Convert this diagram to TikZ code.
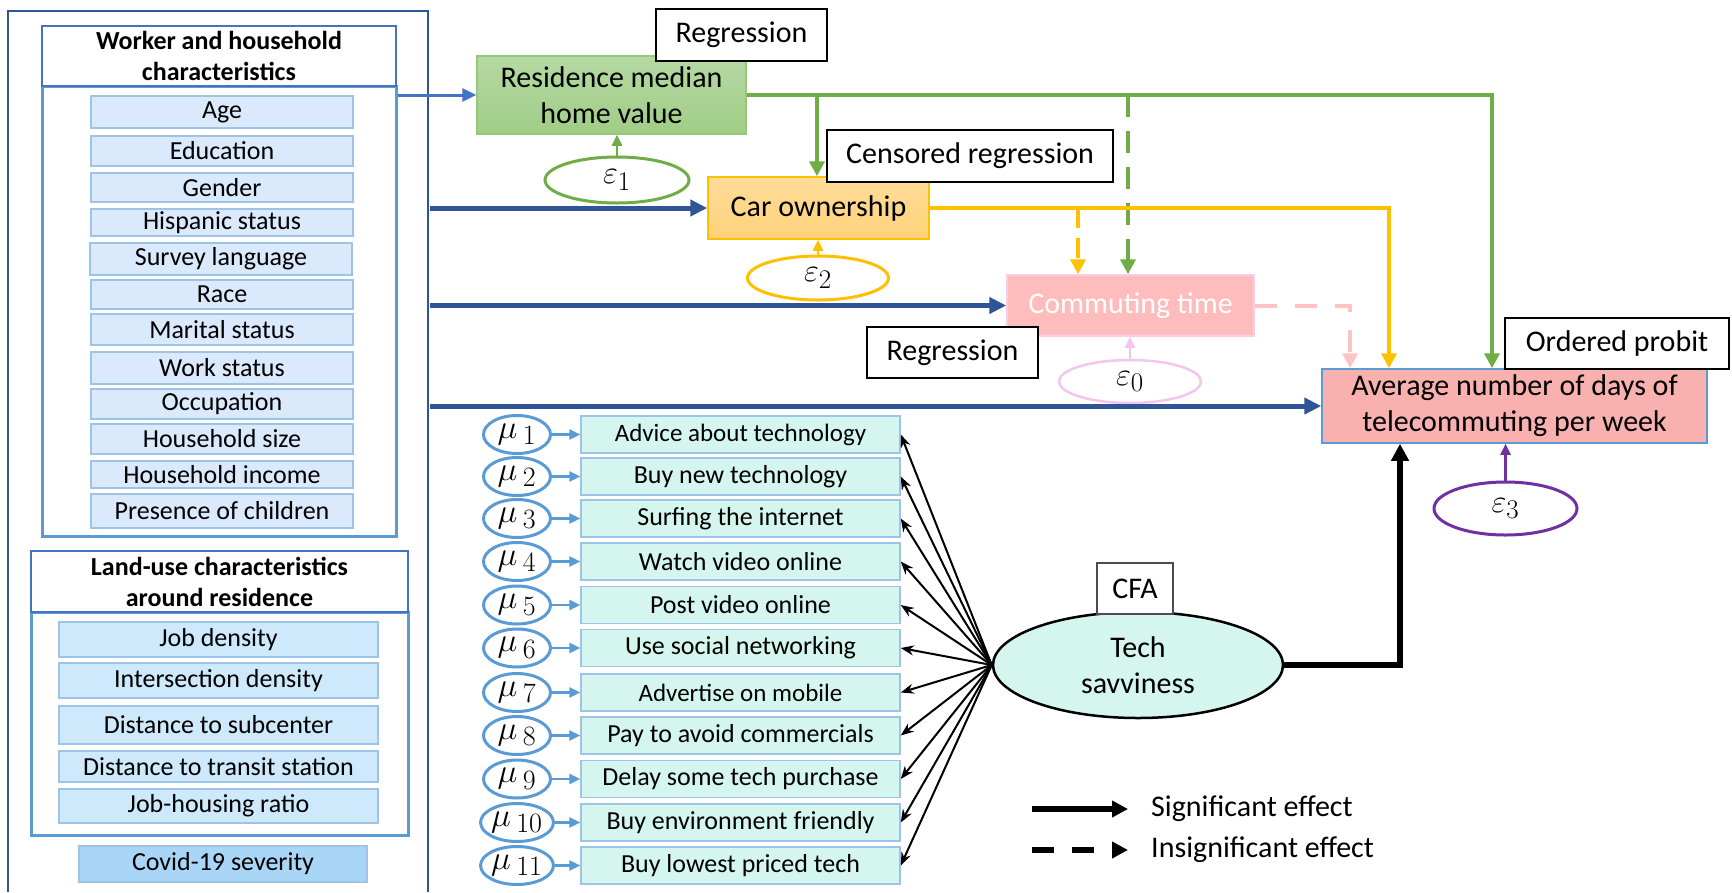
\documentclass[tikz,border=0pt]{standalone}
\usepackage{graphicx}
\usepackage{fontspec}
\setmainfont{Carlito}
\usetikzlibrary{arrows.meta,shapes.geometric}
\definecolor{dkblue}{HTML}{2F5597}
\definecolor{ltblue}{HTML}{4472C4}
\definecolor{midblue}{HTML}{5B9BD5}
\definecolor{itemfill}{HTML}{DAEAFC}
\definecolor{itemdraw}{HTML}{9DC3E6}
\definecolor{landfill}{HTML}{CDE9FB}
\definecolor{covfill}{HTML}{A9D6F7}
\definecolor{grn}{HTML}{70AD47}
\definecolor{org}{HTML}{FFC000}
\definecolor{pinkline}{HTML}{FFC3C3}
\definecolor{comfill}{HTML}{FFBCBD}
\definecolor{comdraw}{HTML}{F8CDE8}
\definecolor{avgfill}{HTML}{F9B1AF}
\definecolor{mint}{HTML}{D4F6EE}
\definecolor{purp}{HTML}{7030A0}
\definecolor{epink}{HTML}{F2C6EE}
\definecolor{resTop}{HTML}{B5D9A3}
\definecolor{resBot}{HTML}{A0CD86}
\definecolor{resdraw}{HTML}{96C87A}
\definecolor{carTop}{HTML}{FFDC98}
\definecolor{carBot}{HTML}{FFD27A}
\newcommand{\mymu}[1]{\scalebox{1.35}{$\mu_{\hspace{4pt}#1}$}}
\newcommand{\myeps}[1]{\scalebox{1.3}{$\varepsilon_{#1}$}}
\begin{document}
\begin{tikzpicture}[x=1pt,y=-1pt,
  f26/.style={font=\fontsize{26}{31}\selectfont},
  f25/.style={font=\fontsize{25}{30}\selectfont},
  f30/.style={font=\fontsize{30}{36}\selectfont},
  hdr/.style={draw=ltblue,line width=2pt,inner sep=0pt,align=center,font=\bfseries\fontsize{26}{31}\selectfont},
  body/.style={draw=midblue,line width=3pt,inner sep=0pt},
  item/.style={draw=itemdraw,fill=itemfill,line width=1.5pt,inner sep=0pt,minimum width=262pt,f26},
  land/.style={draw=itemdraw,fill=landfill,line width=1.5pt,inner sep=0pt,minimum width=319pt,f26},
  ind/.style={draw=itemdraw,fill=mint,line width=1.5pt,inner sep=0pt,minimum width=319pt,minimum height=37pt,f26},
  mu/.style={ellipse,draw=midblue,fill=white,line width=3pt,minimum width=67pt,minimum height=38pt,inner sep=0pt,font=\fontsize{24.88}{26}\selectfont},
  lbl/.style={draw=black,fill=white,line width=1.8pt,inner sep=0pt,f30},
  err/.style={ellipse,fill=white,line width=3pt,inner sep=0pt,font=\fontsize{24.88}{26}\selectfont},
  bigarr/.style={line width=5pt,-{Triangle[length=17pt,width=16pt]}},
  medarr/.style={line width=4pt,-{Triangle[length=15pt,width=15pt]}},
  thinarr/.style={line width=2.5pt,-{Triangle[length=11pt,width=10pt]}},
  fan/.style={line width=2pt,-{Stealth[length=13pt,width=10pt]}},
]
\fill[white] (0,0) rectangle (1732,892);
\useasboundingbox (0,0) rectangle (1732,892);

% outer frame
\draw[dkblue,line width=2.5pt] (8,892) -- (8,11) -- (428,11) -- (428,892);

% worker and household
\node[body,minimum width=354pt,minimum height=450pt] (wkbody) at (219,311) {};
\node[hdr,fill=white,minimum width=354pt,minimum height=60pt] (wkhead) at (219,56) {Worker and household\\characteristics};
\node[item,minimum height=32pt] (w1) at (222,112) {Age};
\node[item,minimum height=30pt] (w2) at (222,151) {Education};
\node[item,minimum height=29pt] (w3) at (222,187.5) {Gender};
\node[item,minimum height=27pt] (w4) at (222,222.5) {Hispanic status};
\node[item,minimum height=32pt] (w5) at (221,259) {Survey language};
\node[item,minimum height=29pt] (w6) at (222,294.5) {Race};
\node[item,minimum height=31pt] (w7) at (222,329.5) {Marital status};
\node[item,minimum height=32pt] (w8) at (222,368) {Work status};
\node[item,minimum height=30pt] (w9) at (222,404) {Occupation};
\node[item,minimum height=30pt] (w10) at (222,439) {Household size};
\node[item,minimum height=27pt] (w11) at (222,474.5) {Household income};
\node[item,minimum height=34pt] (w12) at (222,511) {Presence of children};

% land use
\node[body,minimum width=377pt,minimum height=223pt] (lubody) at (219.5,723.5) {};
\node[hdr,fill=white,minimum width=377pt,minimum height=61pt] (luhead) at (219.5,581.5) {Land-use characteristics\\around residence};
\node[land,minimum height=35pt] (l1) at (218.5,639.5) {Job density};
\node[land,minimum height=35pt] (l2) at (218.5,680.5) {Intersection density};
\node[land,minimum height=38pt] (l3) at (218.5,725) {Distance to subcenter};
\node[land,minimum height=31pt] (l4) at (218.5,766.5) {Distance to transit station};
\node[land,minimum height=34pt] (l5) at (218.5,806) {Job-housing ratio};
\node[draw=itemdraw,fill=covfill,line width=1.5pt,inner sep=0pt,minimum width=288pt,minimum height=36pt,f26] (cov) at (223,864) {Covid-19 severity};

% endogenous variables
\node[draw=resdraw,line width=1.5pt,top color=resTop,bottom color=resBot,minimum width=269pt,minimum height=78pt,inner sep=0pt,align=center,f30] (res) at (611.5,95) {Residence median\\home value};
\node[lbl,minimum width=171pt,minimum height=52pt] (lreg1) at (741.5,35) {Regression};
\node[err,draw=grn,minimum width=144pt,minimum height=46pt] (e1) at (617,180) {\myeps{1}};

\node[draw=org,line width=1.5pt,top color=carTop,bottom color=carBot,minimum width=221pt,minimum height=62pt,inner sep=0pt,f30] (car) at (818.5,208) {Car ownership};
\node[lbl,minimum width=286pt,minimum height=52pt] (lcens) at (970,156) {Censored regression};
\node[err,draw=org,minimum width=141pt,minimum height=44pt] (e2) at (818,278) {\myeps{2}};

\node[draw=comdraw,fill=comfill,line width=1.5pt,minimum width=247pt,minimum height=61pt,inner sep=0pt,text=white,f30] (com) at (1130.5,305.5) {Commuting time};
\node[lbl,minimum width=171pt,minimum height=51pt] (lreg2) at (952.5,352.5) {Regression};
\node[err,draw=epink,line width=2.5pt,minimum width=142pt,minimum height=43pt] (e0) at (1130,381.5) {\myeps{0}};

\node[draw=midblue,line width=1.5pt,fill=avgfill,minimum width=385pt,minimum height=74pt,inner sep=0pt,align=center,f30] (avg) at (1514.5,406) {Average number of days of\\telecommuting per week};
\node[lbl,minimum width=224pt,minimum height=51pt] (lop) at (1617,343.5) {Ordered probit};
\node[err,draw=purp,minimum width=143pt,minimum height=53pt] (e3) at (1505.5,508.5) {\myeps{3}};

% tech savviness
\node[ellipse,draw=black,line width=2.5pt,fill=mint,minimum width=290pt,minimum height=106pt,inner sep=0pt,align=center,f30] (tech) at (1138,665) {Tech\\savviness};
\node[draw=black!70,fill=white,line width=1.5pt,minimum width=76pt,minimum height=51pt,inner sep=0pt,f30] (cfa) at (1135,588.5) {CFA};

% indicators
\node[ind,f25] (ind1) at (740.5,434.5) {Advice about technology};
\node[ind] (ind2) at (740.5,476.5) {Buy new technology};
\node[ind] (ind3) at (740.5,518.5) {Surfing the internet};
\node[ind] (ind4) at (740.5,561.5) {Watch video online};
\node[ind] (ind5) at (740.5,605) {Post video online};
\node[ind] (ind6) at (740.5,648) {Use social networking};
\node[ind,f25] (ind7) at (740.5,692.5) {Advertise on mobile};
\node[ind] (ind8) at (740.5,735.5) {Pay to avoid commercials};
\node[ind] (ind9) at (740.5,779) {Delay some tech purchase};
\node[ind] (ind10) at (740.5,822.5) {Buy environment friendly};
\node[ind] (ind11) at (740.5,865.5) {Buy lowest priced tech};

\foreach \i/\y in {1/434.5,2/476.5,3/518.5,4/561.5,5/605,6/648,7/692.5,8/735.5,9/779,10/822.5,11/865.5}
  \node[mu] (mu\i) at (517,\y) {\mymu{\i}};

% helper x positions
\coordinate (outR) at (430,0);
\coordinate (gx) at (1492,0);
\coordinate (ox) at (1389,0);
\coordinate (px) at (1350,0);
\coordinate (dx) at (1078,0);
\coordinate (gdx) at (1128,0);
\coordinate (gcx) at (817,0);
\coordinate (bx) at (1400,0);

% connectors
\draw[ltblue,line width=3pt,-{Triangle[length=14pt,width=13pt]}] (wkbody.east |- res.west) -- (res.west);
\draw[dkblue,bigarr] (outR |- car.west) -- (car.west);
\draw[dkblue,bigarr] (outR |- com.west) -- (com.west);
\draw[dkblue,bigarr] (outR |- avg.west) -- (avg.west);

\draw[grn,medarr] (res.east) -| (gx |- avg.north);
\draw[grn,medarr] (gcx |- res.east) -- (gcx |- car.north);
\draw[grn,medarr,dash pattern=on 22pt off 14pt] (gdx |- res.east) -- (gdx |- com.north);
\draw[org,medarr] (car.east) -| (ox |- avg.north);
\draw[org,medarr,dash pattern=on 20pt off 10pt] (dx |- car.east) -- (dx |- com.north);
\draw[pinkline,medarr,dash pattern=on 22pt off 18pt] (com.east) -| (px |- avg.north);

\draw[grn,thinarr] (e1.north) -- (e1.north |- res.south);
\draw[org,thinarr] (e2.north) -- (e2.north |- car.south);
\draw[epink,line width=2pt,-{Triangle[length=11pt,width=10pt]}] (e0.north) -- (e0.north |- com.south);
\draw[purp,thinarr] (e3.north) -- (e3.north |- avg.south);

\draw[black,line width=6pt,-{Triangle[length=17pt,width=17pt]}] (tech.east) -| (bx |- avg.south);

\foreach \i in {1,...,11} {
  \draw[fan] (tech.west) -- (ind\i.east);
  \draw[midblue,thinarr] (mu\i.east) -- (ind\i.west);
}

% legend
\coordinate (lgA) at (1032,809);
\coordinate (lgB) at (1128,809);
\coordinate (lgC) at (1032,850);
\coordinate (lgD) at (1128,850);
\draw[line width=6pt,-{Triangle[length=16pt,width=16pt]}] (lgA) -- (lgB);
\draw[line width=6pt,dash pattern=on 22pt off 18pt,-{Triangle[length=16pt,width=16pt]}] (lgC) -- (lgD);
\node[anchor=west,inner sep=0pt,f30] (sig) at (1151,809) {Significant effect};
\node[anchor=west,inner sep=0pt,f30] (insig) at (1151,850) {Insignificant effect};
\end{tikzpicture}
\end{document}
